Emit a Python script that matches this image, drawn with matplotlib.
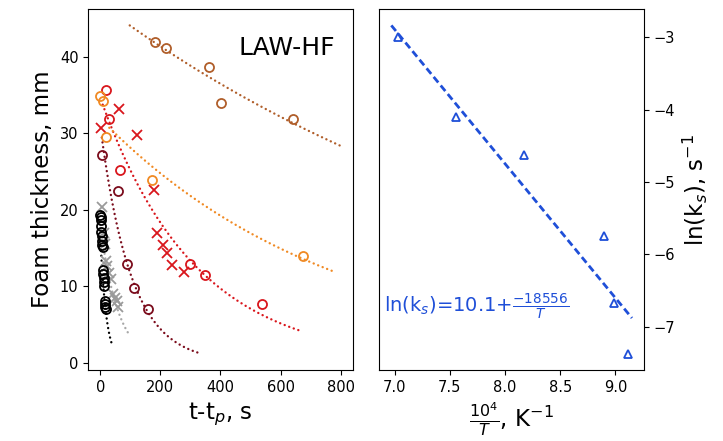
import numpy as np
import matplotlib
matplotlib.use("Agg")
import matplotlib.pyplot as plt

# foam thickness (mm) vs t - t_p (s), one set per temperature
t_black = [0, 1, 2, 3, 4, 5, 6, 7, 8, 9, 10, 11, 12, 13, 15, 16, 17, 18]
h_black = [19.3, 19.0, 18.6, 17.8, 17.1, 16.5, 15.9, 15.4, 15.1,
           12.1, 11.6, 11.0, 10.5, 10.0, 8.0, 7.6, 7.3, 7.0]

t_gray = [7, 12, 15, 18, 22, 28, 34, 42, 48, 55, 60]
h_gray = [20.3, 17.0, 15.5, 13.3, 12.6, 11.7, 10.9, 9.0, 8.4, 8.0, 7.3]

t_maroon = [7, 60, 90, 111, 160]
h_maroon = [27.2, 22.4, 12.9, 9.7, 7.0]

t_red_o = [20, 29, 67, 298, 350, 539]
h_red_o = [35.7, 31.8, 25.2, 12.9, 11.5, 7.7]
t_red_x = [2, 62, 121, 180, 190, 209, 222, 238, 280]
h_red_x = [30.7, 33.2, 29.7, 22.6, 16.9, 15.4, 14.3, 12.7, 11.8]

t_orange = [0, 8, 20, 171, 673]
h_orange = [34.8, 34.2, 29.5, 23.9, 13.9]

t_brown = [181, 220, 362, 401, 642]
h_brown = [41.9, 41.2, 38.6, 33.9, 31.8]

# fitted decay h = h0 * exp(-k t), ln(k) shown in right panel
inv_T = [7.03, 7.56, 8.17, 8.90, 8.99, 9.11]        # 1e4/T, 1/K
ln_k = [-3.00, -4.10, -4.63, -5.75, -6.67, -7.37]
h0 = [16.5, 18.0, 30.9, 34.6, 31.9, 46.9]
t_fit_start = [0, 0, 5, 8, 30, 98]
t_fit_end = [40, 93, 335, 668, 772, 800]

# Arrhenius fit: ln(k) = a + b/T
a_fit = 10.1
b_fit = -18556
x_fit = [6.97, 9.15]

c_black = "black"
c_gray = "#9a9a9a"
c_maroon = "#7b0c1c"
c_red = "#d9161c"
c_orange = "#f08a24"
c_brown = "#b05e2a"
c_blue = "#1f4fd8"
fit_colors = [c_black, "#a8a8a8", c_maroon, c_red, c_orange, c_brown]

fig = plt.figure(figsize=(7.23, 4.41), dpi=100)
ax1 = fig.add_axes([0.1221, 0.161, 0.3657, 0.8186])
ax2 = fig.add_axes([0.5246, 0.161, 0.3661, 0.8186])

# round dots: tiny dash + round cap
dots = (0, (0.05, 2.0))
for i in range(6):
    t = np.linspace(t_fit_start[i], t_fit_end[i], 200)
    ax1.plot(t, h0[i] * np.exp(-np.exp(ln_k[i]) * t), linestyle=dots,
             lw=1.7, color=fit_colors[i], dash_capstyle="round")

mk = dict(ms=6.5, mew=1.3, ls="none")
ax1.plot(t_gray, h_gray, "x", color=c_gray, **mk)
ax1.plot(t_black, h_black, "o", mfc="none", mec=c_black, **mk)
ax1.plot(t_maroon, h_maroon, "o", mfc="none", mec=c_maroon, **mk)
ax1.plot(t_red_x, h_red_x, "x", color=c_red, **mk)
ax1.plot(t_red_o, h_red_o, "o", mfc="none", mec=c_red, **mk)
ax1.plot(t_orange, h_orange, "o", mfc="none", mec=c_orange, **mk)
ax1.plot(t_brown, h_brown, "o", mfc="none", mec=c_brown, **mk)

ax1.set_xticks([0, 200, 400, 600, 800])
ax1.set_yticks([0, 10, 20, 30, 40])
ax1.tick_params(labelsize=10.5)
ax1.set_xlabel("t-t$_p$, s", fontsize=16.5)
ax1.set_ylabel("Foam thickness, mm", fontsize=16.5)
ax1.text(0.933, 0.873, "LAW-HF", transform=ax1.transAxes, ha="right",
         va="baseline", fontsize=18)

# right panel: rate constant vs inverse temperature
xf = np.array(x_fit)
ax2.plot(xf, a_fit + b_fit / (1e4 / xf), "--", dashes=(2.6, 1.4), lw=2,
         color=c_blue)
ax2.plot(inv_T, ln_k, "^", mfc="none", mec=c_blue, ms=6, mew=1.3, ls="none")
ax2.text(6.907, -6.80, "ln(k$_s$)=%.1f+$\\frac{%d}{T}$" % (a_fit, b_fit),
         color=c_blue, fontsize=14, ha="left", va="baseline")

ax2.yaxis.tick_right()
ax2.yaxis.set_label_position("right")
ax2.set_xticks([7.0, 7.5, 8.0, 8.5, 9.0])
ax2.set_yticks([-3, -4, -5, -6, -7])
ax2.tick_params(labelsize=10.5)
ax2.set_xlabel("$\\frac{10^4}{T}$, K$^{-1}$", fontsize=16.5)
ax2.set_ylabel("ln(k$_s$), s$^{-1}$", fontsize=16.5)

fig.savefig("out.png", dpi=100)
